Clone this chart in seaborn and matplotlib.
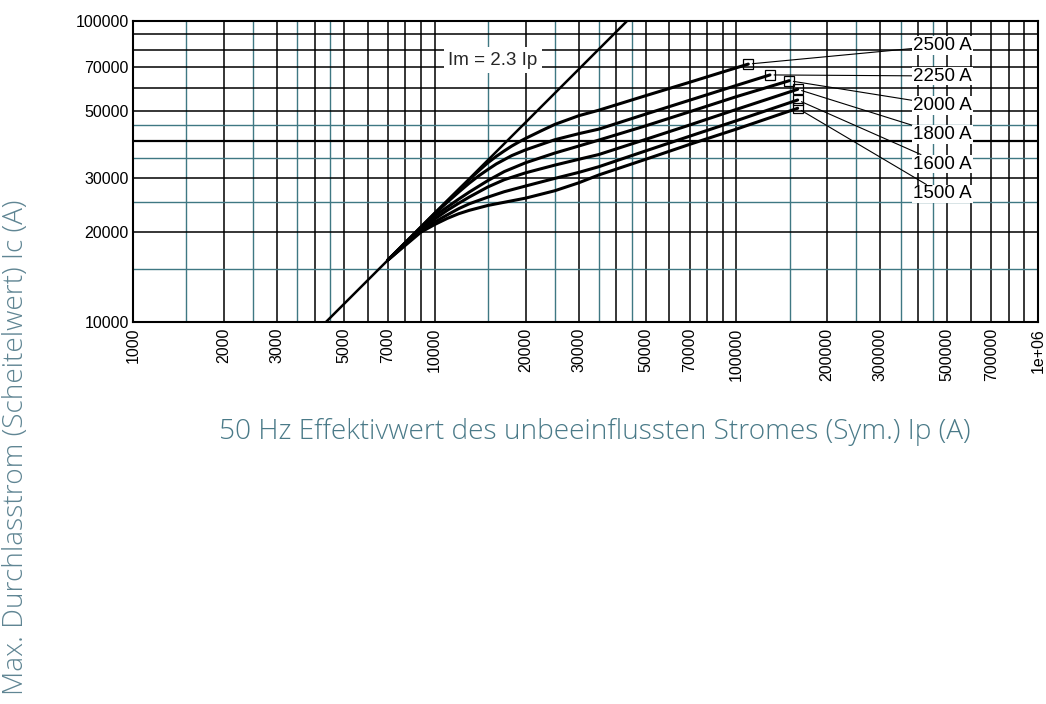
import numpy as np
import pandas as pd
import matplotlib
matplotlib.use('Agg')
from matplotlib import pyplot as plt
import seaborn as sns

# Kennlinien: unbeeinflusster Strom Ip (A) -> max. Durchlassstrom Ic (A)
RATINGS = ['2500 A', '2250 A', '2000 A', '1800 A', '1600 A', '1500 A']

ip_2500 = [7000, 10000, 12000, 13000, 14000, 15000, 16000, 17000, 18000, 19000, 20000, 22500,
           25000, 30000, 35000, 50000, 70000, 109500]
ic_2500 = [16100, 23000, 27500, 29700, 31800, 33800, 35500, 37000, 38400, 39600, 40700, 43100,
           45300, 48400, 50500, 56400, 62500, 71800]

ip_2250 = [7000, 10000, 11000, 12000, 13000, 14000, 15000, 16000, 18000, 20000, 25000, 30000,
           35000, 50000, 70000, 100000, 129200]
ic_2250 = [16100, 22900, 25000, 27000, 28900, 30600, 32100, 33500, 35700, 37300, 40300, 42200,
           43700, 49000, 54500, 61000, 66100]

ip_2000 = [7000, 9000, 10000, 11000, 12000, 13000, 15000, 17000, 20000, 25000, 30000, 35000,
           50000, 70000, 100000, 149700]
ic_2000 = [16100, 20500, 22500, 24100, 25600, 27000, 29500, 31600, 33800, 36400, 38400, 40200,
           44800, 49900, 56000, 63250]

ip_1800 = [7000, 9000, 10000, 11000, 12000, 13000, 15000, 17000, 20000, 25000, 30000, 35000,
           50000, 70000, 100000, 159600]
ic_1800 = [16100, 20300, 22000, 23500, 24800, 26000, 28100, 29700, 31300, 33200, 34700, 36000,
           40400, 45100, 50800, 59230]

ip_1600 = [7000, 9000, 10000, 11000, 12000, 13000, 15000, 17000, 20000, 25000, 30000, 35000,
           50000, 70000, 100000, 159600]
ic_1600 = [16100, 20100, 21500, 22700, 23800, 24700, 26000, 27100, 28300, 30000, 31400, 32800,
           37000, 41400, 46600, 54580]

ip_1500 = [7000, 9000, 10000, 11000, 12000, 13000, 15000, 17000, 20000, 25000, 30000, 35000,
           50000, 70000, 100000, 159600]
ic_1500 = [16100, 19900, 21100, 22100, 22900, 23500, 24400, 25000, 25800, 27300, 29000, 30800,
           34700, 38900, 43700, 51240]

# Gerade Im = 2.3 Ip
line_ip = [4350, 43500]
line_ic = [10000, 100000]

# Beschriftungen (Lage der Texte)
label_ip = 385000
label_ic = [82650, 65550, 52480, 41880, 33480, 26640]

x_ticks = [1000, 2000, 3000, 5000, 7000, 10000, 20000, 30000, 50000, 70000,
           100000, 200000, 300000, 500000, 700000, 1000000]
x_ticklabels = ['1000', '2000', '3000', '5000', '7000', '10000', '20000', '30000', '50000',
                '70000', '100000', '200000', '300000', '500000', '700000', '1e+06']
y_ticks = [10000, 20000, 30000, 50000, 70000, 100000]

TEAL = '#3f7883'

curves = [(ip_2500, ic_2500), (ip_2250, ic_2250), (ip_2000, ic_2000),
          (ip_1800, ic_1800), (ip_1600, ic_1600), (ip_1500, ic_1500)]
df = pd.concat([pd.DataFrame({'Ip': ip, 'Ic': ic, 'rating': r})
                for r, (ip, ic) in zip(RATINGS, curves)], ignore_index=True)
df_line = pd.DataFrame({'Ip': line_ip, 'Ic': line_ic})

sns.set_theme(style='white')
plt.rcParams['font.family'] = ['Liberation Sans', 'DejaVu Sans']

fig = plt.figure(figsize=(10.46, 7.04), dpi=100)
ax = fig.add_axes([0.1272, 0.5422, 0.8652, 0.4284])
ax.set_xscale('log')
ax.set_yscale('log')
ax.set_xlim(1000, 1e6)
ax.set_ylim(10000, 100000)

# Raster
for dec in [1000, 10000, 100000]:
    for m in [2, 3, 4, 5, 6, 7, 8, 9]:
        ax.axvline(m * dec, color='black', lw=1.1, zorder=1)
    for m in [1.5, 2.5, 3.5, 4.5]:
        ax.axvline(m * dec, color=TEAL, lw=1.0, zorder=1)
ax.axvline(10000, color='black', lw=1.1, zorder=1)
ax.axvline(100000, color='black', lw=1.1, zorder=1)
for v in [20000, 30000, 50000, 60000, 70000, 80000, 90000]:
    ax.axhline(v, color='black', lw=1.1, zorder=1)
ax.axhline(40000, color='black', lw=1.6, zorder=1)
for v in [15000, 25000, 35000, 45000]:
    ax.axhline(v, color=TEAL, lw=1.0, zorder=1)

sns.lineplot(data=df_line, x='Ip', y='Ic', color='black', lw=1.8, ax=ax, zorder=3)
sns.lineplot(data=df, x='Ip', y='Ic', units='rating', estimator=None, sort=False,
             color='black', lw=2.2, ax=ax, zorder=3)

ends = df.groupby('rating', sort=False).tail(1)
ax.plot(ends['Ip'], ends['Ic'], ls='none', marker='s', ms=6.5, mfc='none',
        mec='black', mew=0.9, zorder=4)

for (r, row), ly in zip(ends.set_index('rating').iterrows(), label_ic):
    ax.annotate(r, xy=(row['Ip'], row['Ic']), xytext=(label_ip, ly),
                ha='left', va='center', fontsize=13.5, color='black', zorder=5,
                bbox=dict(boxstyle='square,pad=0.05', fc='white', ec='none'),
                arrowprops=dict(arrowstyle='-', lw=0.8, color='black',
                                shrinkA=0, shrinkB=3))

ax.text(15600, 74000, 'Im = 2.3 Ip', ha='center', va='center', fontsize=13.5, zorder=5,
        bbox=dict(boxstyle='square,pad=0.25', fc='white', ec='none'))

ax.set_xticks(x_ticks)
ax.set_xticklabels(x_ticklabels, rotation=90, fontsize=11.5)
ax.set_yticks(y_ticks)
ax.set_yticklabels([str(v) for v in y_ticks], fontsize=11.5)
ax.minorticks_off()
ax.tick_params(axis='x', length=0, pad=4, labelcolor='black')
ax.tick_params(axis='y', length=0, pad=3, labelcolor='black')
ax.set_xlabel('')
ax.set_ylabel('')
for s in ax.spines.values():
    s.set_color('black')
    s.set_linewidth(1.5)
    s.set_zorder(6)

label_font = dict(family=['Open Sans', 'DejaVu Sans'], fontweight='light', fontsize=20.2)
fig.text(0.569, 1 - 432 / 704, '50 Hz Effektivwert des unbeeinflussten Stromes (Sym.) Ip (A)',
         ha='center', va='center', color='#4a7a88', **label_font)
fig.text(16 / 1046, 1 - 447 / 704, 'Max. Durchlasstrom (Scheitelwert) Ic (A)', rotation=90,
         ha='center', va='center', color='#5f8593', **label_font)

fig.savefig('out.png', dpi=100)
plt.close(fig)
